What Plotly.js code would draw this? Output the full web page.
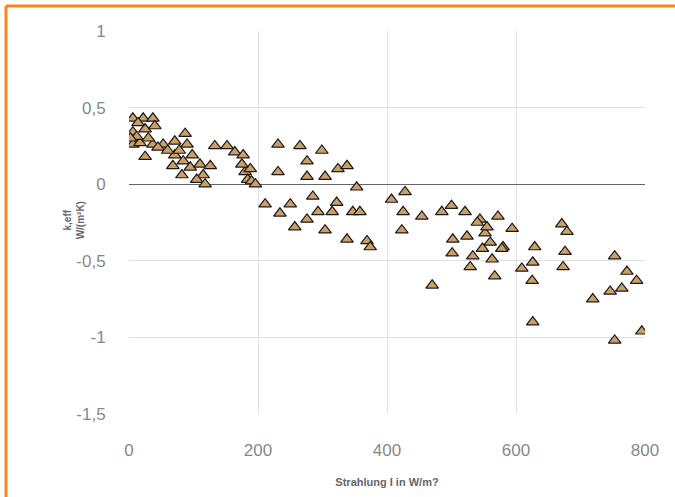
<!DOCTYPE html>
<html>
<head>
<meta charset="utf-8">
<script src="https://cdn.plot.ly/plotly-3.0.1.min.js"></script>
<style>html,body{margin:0;padding:0;background:#fff;}#chart{width:675px;height:497px;}</style>
</head>
<body>
<div id="chart"></div>
<script>
// Strahlung I (W/m²)
const irradiance = [
  6, 22, 37, 6, 25, 40, 6, 17, 37, 25, 53, 71, 87, 90, 71, 68, 84, 98, 95, 82, 110, 115, 105, 118, 126, 133, 152, 164, 177, 180, 184, 190, 196, 188, 175,
  12, 30, 45, 60, 2, 14, 78,
  231, 265, 299, 231, 276, 276, 304, 324, 338, 353, 285, 211, 250, 234, 276, 293, 315, 322, 347, 358, 257, 304, 338, 369,
  407, 428, 425, 454, 423, 374, 485, 500, 521, 544, 572, 502, 524, 552, 501, 533, 529, 563, 567, 580, 470,
  540, 555, 560, 548, 594, 578, 629, 626, 609, 625, 671, 679, 676, 673, 753, 772, 787, 746, 764, 719, 626, 795, 753
];
// k,eff (W/(m²K))
const keff = [
  0.43, 0.43, 0.43, 0.34, 0.36, 0.38, 0.26, 0.27, 0.26, 0.18, 0.26, 0.28, 0.33, 0.26, 0.19, 0.12, 0.15, 0.19, 0.11, 0.06, 0.13, 0.06, 0.03, 0.00, 0.12, 0.25, 0.25, 0.21, 0.19, 0.08, 0.03, 0.02, 0.00, 0.10, 0.13,
  0.31, 0.30, 0.24, 0.22, 0.30, 0.40, 0.22,
  0.26, 0.25, 0.22, 0.08, 0.15, 0.05, 0.05, 0.10, 0.12, -0.02, -0.08, -0.13, -0.13, -0.19, -0.23, -0.18, -0.18, -0.12, -0.18, -0.18, -0.28, -0.30, -0.36, -0.37,
  -0.10, -0.05, -0.18, -0.21, -0.30, -0.41, -0.18, -0.14, -0.18, -0.23, -0.21, -0.36, -0.34, -0.32, -0.45, -0.47, -0.54, -0.49, -0.60, -0.41, -0.66,
  -0.25, -0.28, -0.38, -0.42, -0.29, -0.42, -0.41, -0.51, -0.55, -0.63, -0.26, -0.31, -0.44, -0.54, -0.47, -0.57, -0.63, -0.70, -0.68, -0.75, -0.90, -0.96, -1.02
];
const xTickVals = [0, 200, 400, 600, 800];
const xTickText = ["0", "200", "400", "600", "800"];
const yTickVals = [-1.5, -1, -0.5, 0, 0.5, 1];
const yTickText = ["-1,5", "-1", "-0,5", "0", "0,5", "1"];
const xTitle = "Strahlung I in W/m?";
const yTitle = "k,eff<br>W/(m²K)";

const trace = {
  x: irradiance, y: keff, type: 'scatter', mode: 'markers',
  marker: {symbol: 'triangle-up', size: 11, color: '#cc9f66', line: {color: '#1a1a1a', width: 1.2}},
  hoverinfo: 'skip'
};

const layout = {
  width: 675, height: 497,
  margin: {l: 129, r: 30, t: 31, b: 83},
  paper_bgcolor: '#fff', plot_bgcolor: '#fff',
  showlegend: false,
  font: {family: 'Liberation Sans, Arial, sans-serif', color: '#888'},
  xaxis: {
    range: [0, 800], tickvals: xTickVals, ticktext: xTickText, ticks: 'outside', ticklen: 21, tickcolor: 'rgba(0,0,0,0)',
    showgrid: true, gridcolor: '#e0e0e0', gridwidth: 1, zeroline: false, showline: false,
    tickfont: {size: 17, color: '#888'},
    title: {text: xTitle, font: {size: 11, color: '#666', weight: 'bold'}, standoff: 18}
  },
  yaxis: {
    range: [-1.5, 1], tickvals: yTickVals, ticktext: yTickText, ticks: 'outside', ticklen: 19, tickcolor: 'rgba(0,0,0,0)',
    showgrid: true, gridcolor: '#e0e0e0', gridwidth: 1,
    zeroline: true, zerolinecolor: '#666', zerolinewidth: 1.2, showline: false,
    tickfont: {size: 17, color: '#888'}
  },
  annotations: [
    {text: yTitle, xref: 'paper', yref: 'paper', x: -0.107, y: 0.505, xanchor: 'center', yanchor: 'middle',
     textangle: -90, showarrow: false, font: {size: 10, color: '#666', weight: 'bold'}}
  ],
  shapes: [
    {type: 'line', xref: 'paper', yref: 'paper', x0: -0.2384, x1: 2, y0: 1.0653, y1: 1.0653, line: {color: '#f5861f', width: 3}},
    {type: 'line', xref: 'paper', yref: 'paper', x0: -0.2384, x1: -0.2384, y0: -1, y1: 1.0653, line: {color: '#f5861f', width: 3}}
  ]
};

Plotly.newPlot('chart', [trace], layout, {displayModeBar: false, staticPlot: true});
</script>
</body>
</html>
